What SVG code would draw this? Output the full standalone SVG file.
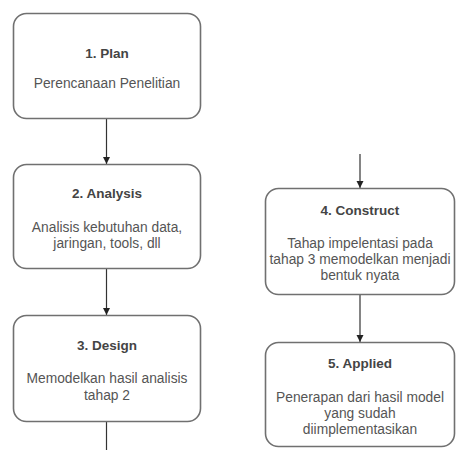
<svg xmlns="http://www.w3.org/2000/svg" width="472" height="450" viewBox="0 0 472 450">
  <style>
    .box { fill: #ffffff; stroke: #707070; stroke-width: 1.6; }
    .edge { fill: none; stroke: #333333; stroke-width: 1.2; }
    .title { font-family: "Liberation Sans", Arial, sans-serif; font-size: 13.5px; font-weight: bold; fill: #444444; text-anchor: middle; }
    .body { font-family: "Liberation Sans", Arial, sans-serif; font-size: 13.8px; fill: #555555; text-anchor: middle; }
  </style>
  <defs>
    <marker id="arrow" markerWidth="8" markerHeight="8" refX="7" refY="4" orient="auto" markerUnits="userSpaceOnUse">
      <path d="M0,0.5 L7,4 L0,7.5 Z" fill="#222222"/>
    </marker>
  </defs>
  <rect width="472" height="450" fill="#ffffff"/>

  <g id="connectors">
    <line class="edge" x1="106.5" y1="119" x2="106.5" y2="164" marker-end="url(#arrow)"/>
    <line class="edge" x1="106.5" y1="269" x2="106.5" y2="315" marker-end="url(#arrow)"/>
    <line class="edge" x1="106.5" y1="422" x2="106.5" y2="450"/>
    <line class="edge" x1="360" y1="154" x2="360" y2="188" marker-end="url(#arrow)"/>
    <line class="edge" x1="360" y1="295" x2="360" y2="342" marker-end="url(#arrow)"/>
  </g>

  <g id="plan">
    <rect class="box" x="13.5" y="13.5" width="187" height="105" rx="13"/>
    <text class="title" x="107" y="58">1. Plan</text>
    <text class="body" x="107" y="88">Perencanaan Penelitian</text>
  </g>

  <g id="analysis">
    <rect class="box" x="13.5" y="164.5" width="187" height="104" rx="13"/>
    <text class="title" x="107" y="198">2. Analysis</text>
    <text class="body" x="107" y="232">Analisis kebutuhan data,</text>
    <text class="body" x="107" y="248">jaringan, tools, dll</text>
  </g>

  <g id="design">
    <rect class="box" x="13.5" y="315.5" width="187" height="106" rx="13"/>
    <text class="title" x="107" y="350">3. Design</text>
    <text class="body" x="107" y="383">Memodelkan hasil analisis</text>
    <text class="body" x="107" y="400">tahap 2</text>
  </g>

  <g id="construct">
    <rect class="box" x="265.5" y="188.5" width="189" height="106" rx="13"/>
    <text class="title" x="360" y="215">4. Construct</text>
    <text class="body" x="360" y="248">Tahap impelentasi pada</text>
    <text class="body" x="360" y="264">tahap 3 memodelkan menjadi</text>
    <text class="body" x="360" y="280">bentuk nyata</text>
  </g>

  <g id="applied">
    <rect class="box" x="265.5" y="342.5" width="189" height="104" rx="13"/>
    <text class="title" x="360" y="368">5. Applied</text>
    <text class="body" x="360" y="402">Penerapan dari hasil model</text>
    <text class="body" x="360" y="418">yang sudah</text>
    <text class="body" x="360" y="434">diimplementasikan</text>
  </g>
</svg>
